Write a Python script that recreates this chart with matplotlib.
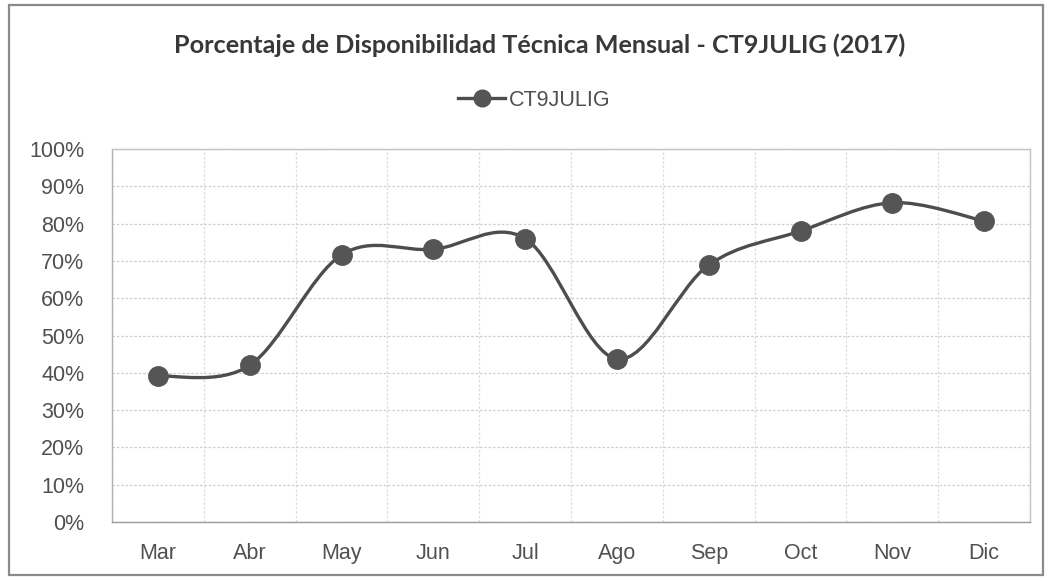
import numpy as np
import matplotlib.pyplot as plt
from matplotlib.path import Path
from matplotlib.patches import PathPatch, Rectangle
from matplotlib.lines import Line2D

months = ["Mar", "Abr", "May", "Jun", "Jul", "Ago", "Sep", "Oct", "Nov", "Dic"]
disponibilidad = [39.1, 42.0, 71.6, 73.1, 76.0, 43.7, 68.9, 78.0, 85.6, 80.7]

x = np.arange(len(months))
y = np.array(disponibilidad) / 100.0

fig = plt.figure(figsize=(10.49, 5.81), dpi=100)
ax = fig.add_axes([112 / 1049, 1 - 522 / 581, (1030 - 112) / 1049, (522 - 149) / 581])

# outer chart border
fig.patches.append(Rectangle((9 / 1049, 6 / 581), 1034 / 1049, 570 / 581,
                             transform=fig.transFigure, fill=False,
                             edgecolor="#8a8a8a", linewidth=1.6))

# smoothed line like Excel (Catmull-Rom as cubic bezier)
verts = [(x[0], y[0])]
codes = [Path.MOVETO]
n = len(x)
for i in range(n - 1):
    p0 = (x[max(i - 1, 0)], y[max(i - 1, 0)])
    p1 = (x[i], y[i])
    p2 = (x[i + 1], y[i + 1])
    p3 = (x[min(i + 2, n - 1)], y[min(i + 2, n - 1)])
    c1 = (p1[0] + (p2[0] - p0[0]) / 6, p1[1] + (p2[1] - p0[1]) / 6)
    c2 = (p2[0] - (p3[0] - p1[0]) / 6, p2[1] - (p3[1] - p1[1]) / 6)
    verts += [c1, c2, p2]
    codes += [Path.CURVE4] * 3
ax.add_patch(PathPatch(Path(verts, codes), fill=False, edgecolor="#4d4d4d",
                       linewidth=2.4, zorder=3))
ax.plot(x, y, linestyle="none", marker="o", markersize=14,
        color="#555555", zorder=4)

ax.set_xlim(-0.5, n - 0.5)
ax.set_ylim(0, 1.0)
ax.set_yticks(np.arange(0, 1.01, 0.1))
ax.set_yticklabels([f"{int(round(v * 100))}%" for v in np.arange(0, 1.01, 0.1)])
ax.set_xticks(x)
ax.set_xticklabels(months)
ax.set_xticks(np.arange(-0.5, n, 1.0), minor=True)

ax.grid(True, axis="y", which="major", color="#cfcfcf", linestyle=(0, (2, 1.5)), linewidth=0.9)
ax.grid(True, axis="x", which="minor", color="#dcdcdc", linestyle=(0, (2, 1.5)), linewidth=0.9)
ax.tick_params(which="both", length=0)
ax.tick_params(axis="y", labelsize=15.5, labelcolor="#505050", pad=20)
ax.tick_params(axis="x", labelsize=15.5, labelcolor="#505050", pad=15)
for lab in ax.get_xticklabels() + ax.get_yticklabels():
    lab.set_fontfamily("Liberation Sans")
for s in ax.spines.values():
    s.set_color("#c4c4c4")
    s.set_linewidth(1.0)
ax.spines["bottom"].set_color("#9a9a9a")
ax.spines["left"].set_color("#b0b0b0")

fig.text(0.514, 1 - 45 / 581, "Porcentaje de Disponibilidad Técnica Mensual - CT9JULIG (2017)",
         ha="center", va="center", fontsize=18.2, fontweight="bold", color="#383838",
         family=["Lato", "DejaVu Sans"])

handle = Line2D([], [], color="#4d4d4d", linewidth=2.4, marker="o",
                markersize=12, markerfacecolor="#555555", markeredgecolor="#555555")
fig.legend([handle], ["CT9JULIG"], loc="center", bbox_to_anchor=(0.509, 1 - 100 / 581),
           frameon=False, handlelength=2.2, handletextpad=0.15,
           prop={"family": "Liberation Sans", "size": 15.5}, labelcolor="#505050")

fig.savefig("out.png", dpi=100)
